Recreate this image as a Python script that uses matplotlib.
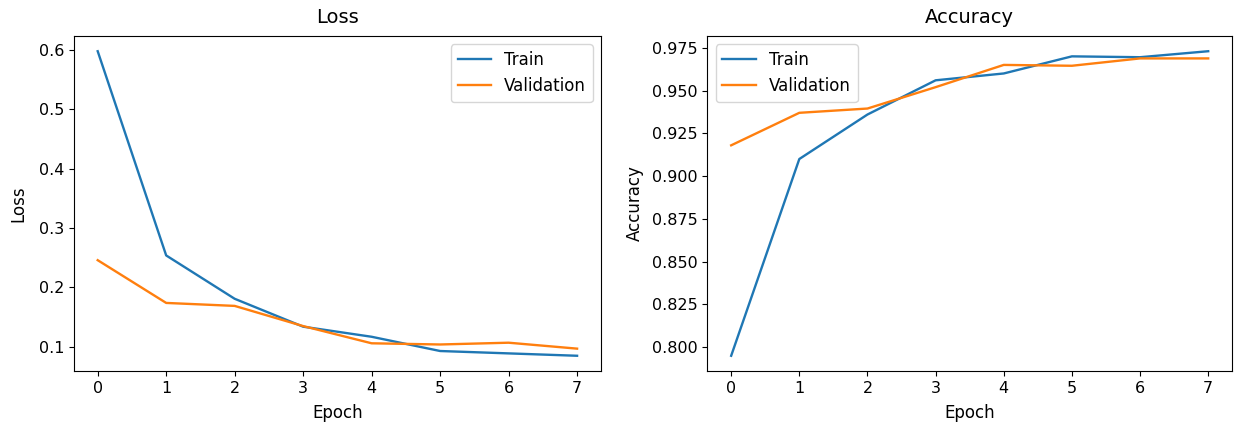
import matplotlib
matplotlib.use("Agg")
import matplotlib.pyplot as plt

epochs = [0, 1, 2, 3, 4, 5, 6, 7]

loss_train = [0.598, 0.254, 0.181, 0.134, 0.117, 0.093, 0.089, 0.085]
loss_val = [0.246, 0.174, 0.169, 0.135, 0.106, 0.104, 0.107, 0.097]

acc_train = [0.795, 0.910, 0.936, 0.956, 0.960, 0.970, 0.9695, 0.973]
acc_val = [0.918, 0.937, 0.9395, 0.952, 0.965, 0.9645, 0.9688, 0.9688]

fig = plt.figure(figsize=(12.37, 4.28), dpi=100)
ax1 = fig.add_axes([0.0596, 0.1332, 0.4263, 0.7827])
ax2 = fig.add_axes([0.5718, 0.1332, 0.4242, 0.7827])

ax1.plot(epochs, loss_train, label='Train', lw=1.7)
ax1.plot(epochs, loss_val, label='Validation', lw=1.7)
ax1.set_title('Loss', fontsize=14, pad=9)
ax1.set_xlabel('Epoch', fontsize=12, labelpad=6)
ax1.set_ylabel('Loss', fontsize=12, labelpad=8)
ax1.legend(fontsize=12)

ax2.plot(epochs, acc_train, label='Train', lw=1.7)
ax2.plot(epochs, acc_val, label='Validation', lw=1.7)
ax2.set_title('Accuracy', fontsize=14, pad=9)
ax2.set_xlabel('Epoch', fontsize=12, labelpad=6)
ax2.set_ylabel('Accuracy', fontsize=12, labelpad=6)
ax2.legend(fontsize=12)

for ax in (ax1, ax2):
    ax.tick_params(labelsize=11.5)

fig.savefig('out.png', dpi=100)
